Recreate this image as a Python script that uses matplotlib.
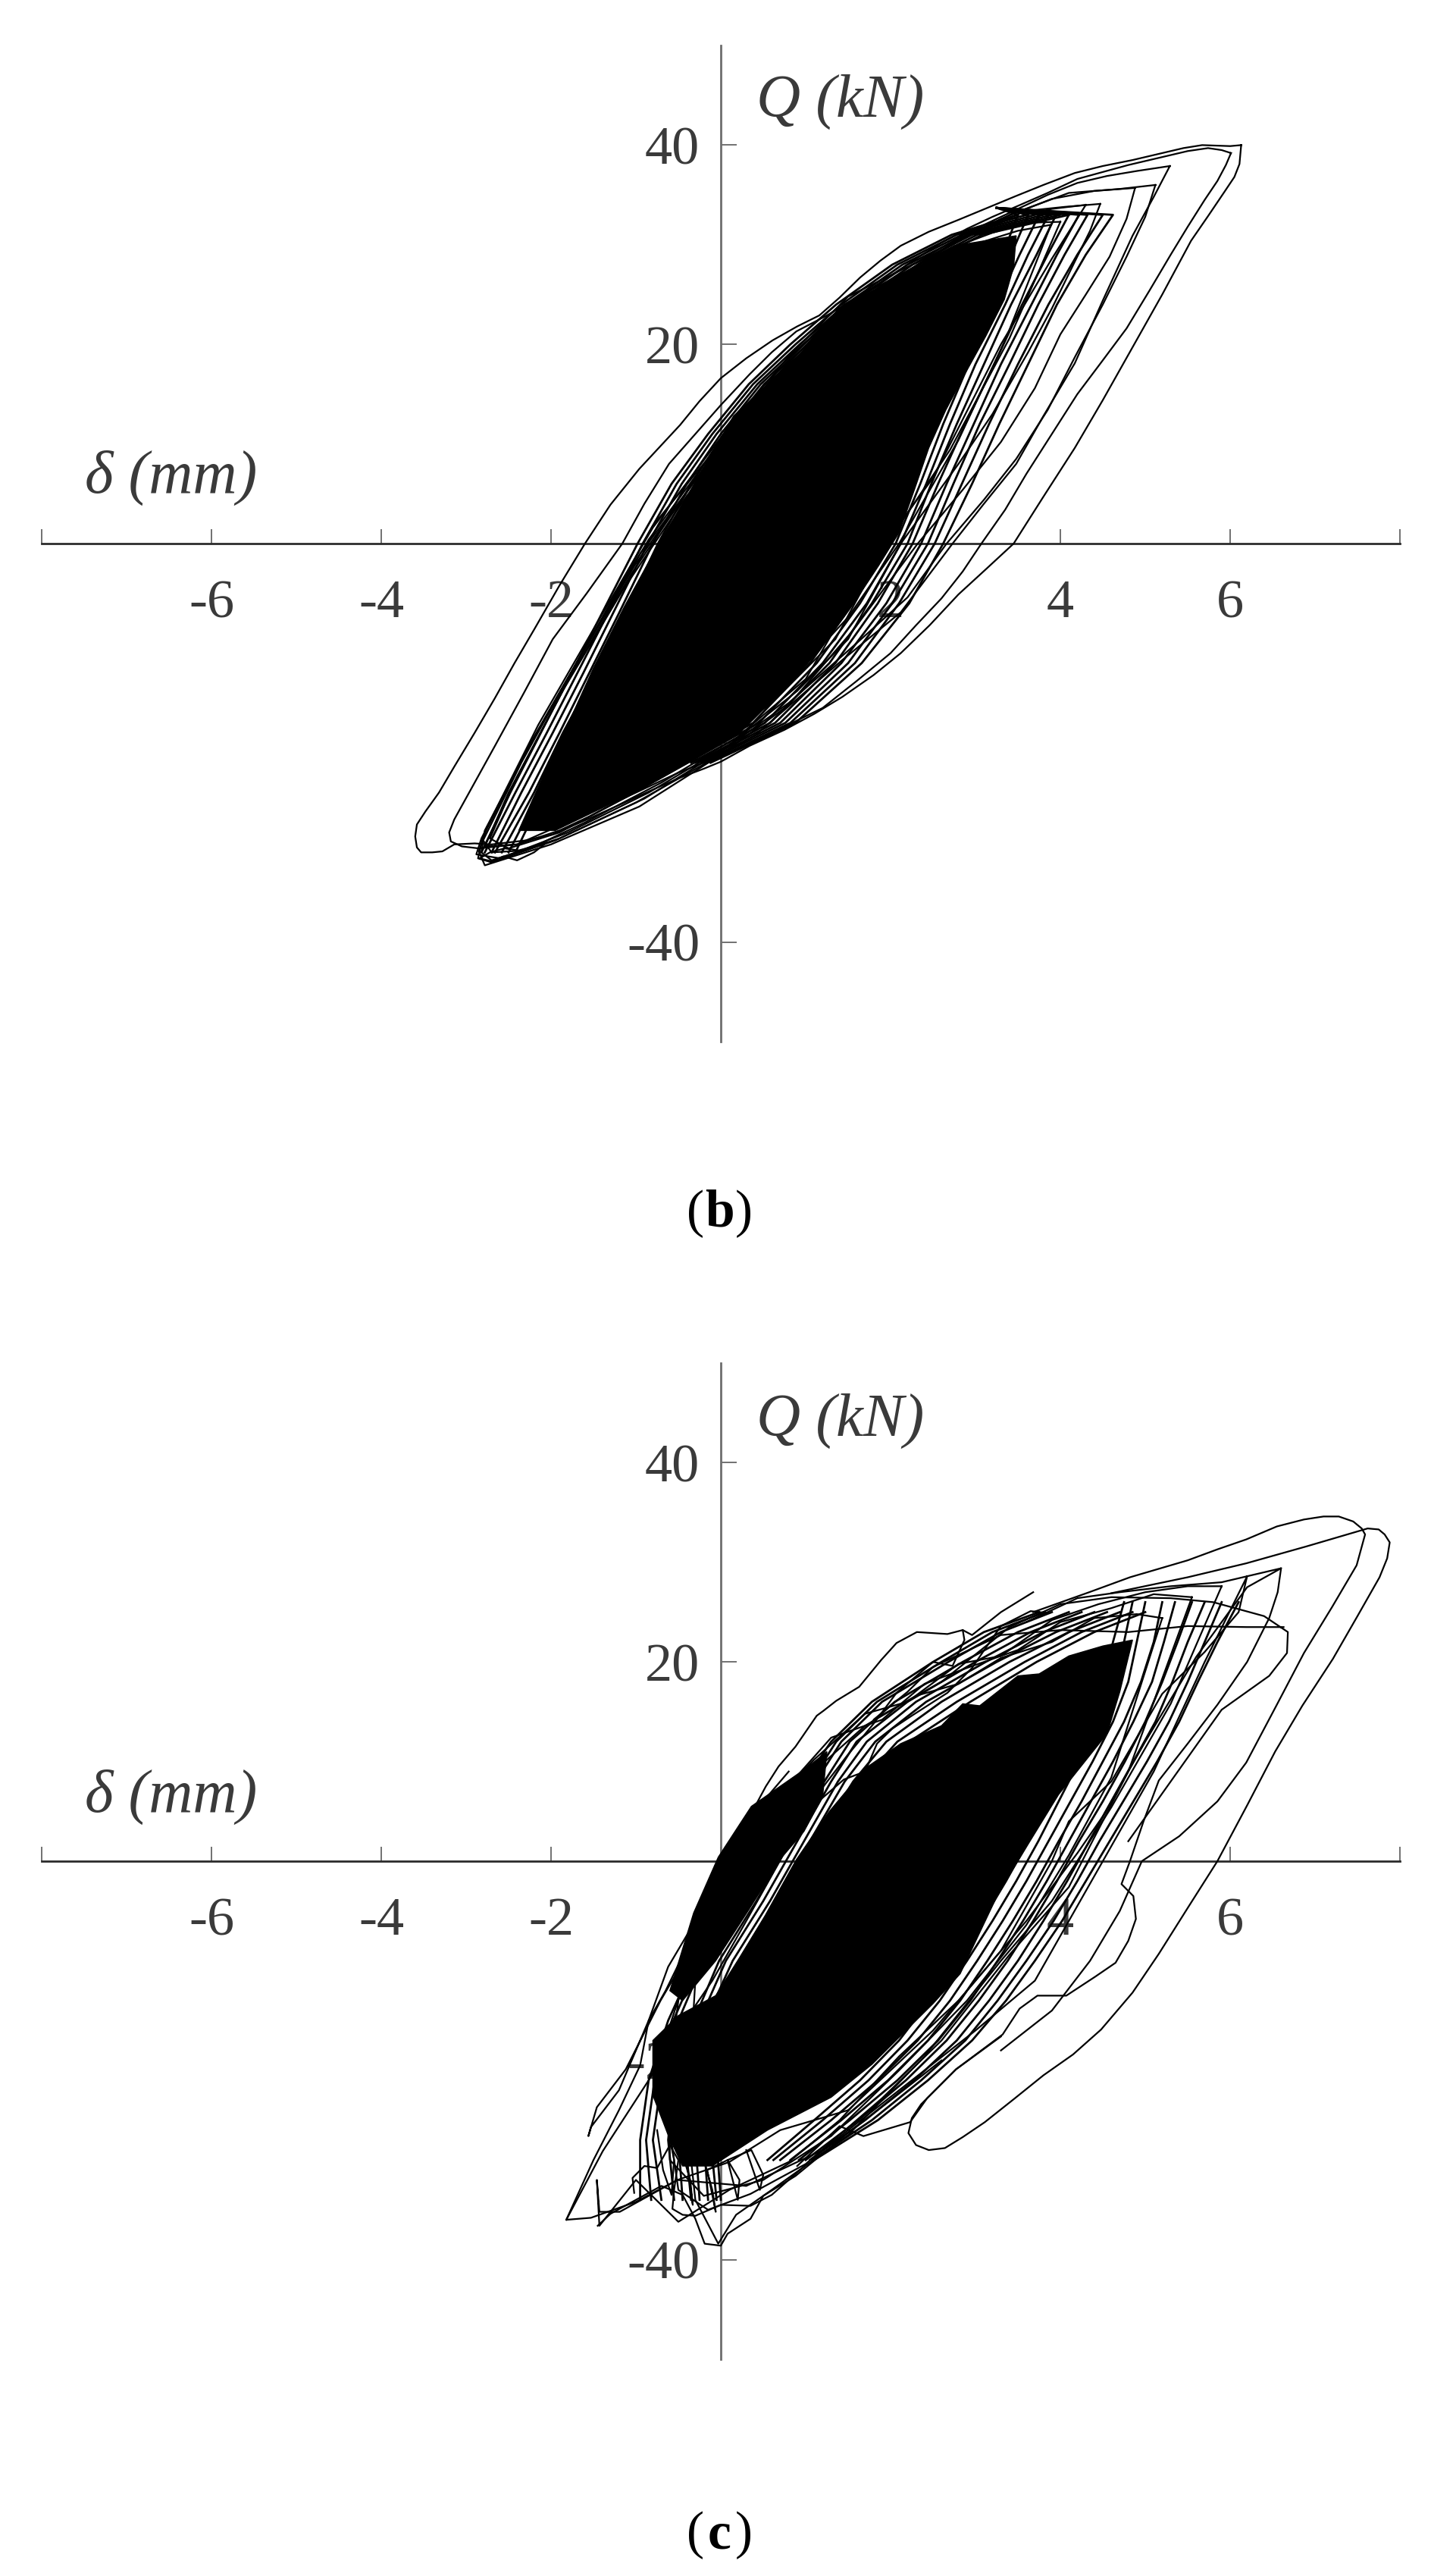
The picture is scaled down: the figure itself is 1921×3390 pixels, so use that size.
#!/usr/bin/env python3
"""Hysteresis loops (b) and (c): shear force Q vs displacement delta."""
import matplotlib
matplotlib.use("Agg")
import matplotlib.pyplot as plt

plt.rcParams.update({"font.family":["Liberation Serif","DejaVu Serif"],"axes.unicode_minus":False})
INK="#2b2b2b"; TXT="#3a3a3a"

x_ticks=[-8,-6,-4,-2,0,2,4,6,8]
x_labels=["","-6","-4","-2","","2","4","6",""]
y_ticks=[-40,-20,20,40]
y_labels=["-40","-20","20","40"]

# ---------- panel b: dense core outline and digitised loops ----------
b_core_x=[-2.38,-2.1,-1.83,-1.5,-1.14,-0.73,-0.25,0.15,0.5,0.84,1.38,2.07,2.75,3.48,3.45,3.34,3.12,2.88,2.65,2.45,2.28,2.1,1.86,1.62,1.28,0.9,0.2,-0.9,-1.95]
b_core_y=[-28.8,-23.5,-18.7,-12.5,-6.4,0,6.9,12.8,15.6,18.1,23.5,26.7,29.9,30.9,27.8,24.5,20.8,17.1,13.4,9.6,5.4,1.1,-2.2,-5.3,-9.4,-13.3,-19.2,-24.5,-28.8]

b1_x=[6.13,6.0,5.67,5.45,5.2,4.85,4.5,4.17,3.8,3.48,3.14,2.8,2.45,2.12,1.88,1.64,1.4,1.16,0.9,0.61,0.3,0,-0.25,-0.48,-0.72,-0.96,-1.3,-1.6,-1.9,-2.19,-2.43,-2.66,-2.9,-3.14,-3.32,-3.48,-3.58,-3.6,-3.58,-3.53,-3.4,-3.28,-3.14,-2.9,-2.7,-2.3,-1.98,-1.55,-1.16,-0.8,-0.48,-0.2,0,0.34,0.75,1.1,1.43,1.8,2.12,2.46,2.8,3.12,3.45,3.8,4.17,4.5,4.85,5.2,5.54,5.75,5.94,6.05,6.11,6.13]
b1_y=[40,39.9,40,39.7,39.2,38.5,37.9,37.2,36,34.9,33.7,32.5,31.3,29.9,28.4,26.7,24.7,22.9,21.8,20.4,18.6,16.6,14.3,11.9,9.7,7.5,3.9,0,-4.2,-8.5,-12,-15.5,-19,-22.4,-25,-26.9,-28.2,-29.4,-30.5,-31,-31,-30.9,-30.2,-30.1,-30.2,-29.8,-29.2,-27.6,-26.1,-24.7,-23.5,-22.6,-21.9,-20.3,-18.7,-17.1,-15.4,-13.2,-11,-8.2,-5.1,-2.6,0,4.7,9.6,14.4,19.7,25,30.4,33,35.4,36.8,38.1,40]
b2_x=[6.01,5.9,5.74,5.5,5.3,4.8,4.5,4.2,3.85,3.5,3.2,2.9,2.6,2.3,1.95,1.57,1.25,0.89,0.6,0.34,0,-0.3,-0.61,-0.9,-1.16,-1.58,-1.98,-2.32,-2.66,-2.9,-3.14,-3.2,-3.18,-3.05,-2.85,-2.4,-1.9,-1.55,-1.2,-0.85,-0.5,0.1,0.6,1.2,1.6,2.0,2.3,2.6,2.85,3.07,3.35,3.6,3.9,4.2,4.5,4.78,5.05,5.3,5.5,5.7,5.85,5.95,6.01]
b2_y=[39.2,39.5,39.7,39.4,39.0,38.0,37.3,36.6,35.2,33.9,32.8,31.6,30.2,28.6,26.6,24.5,22.9,21.3,19.2,17.0,13.9,11,8,4,0,-5,-9.6,-15,-20.3,-24,-27.7,-29,-29.9,-30.4,-30.6,-30.2,-28.8,-27.4,-25.8,-24.4,-23,-21,-19,-16.5,-13.8,-11,-8.2,-5.5,-2.8,0,3.4,7,11,15,18.4,21.6,25.4,29,31.8,34.5,36.4,38,39.2]
b3_x=[5.29,4.9,4.55,4.2,3.85,3.5,2.9,2.3,1.5,0.8,0.05,-0.8,-1.46,-2.15,-2.75,-2.85,-2.78,-2.0,-0.96,0,0.41,1.43,2.12,2.73,3.1,3.48,3.8,4.17,4.5,4.85,5.1,5.29]
b3_y=[37.9,37.4,36.9,36.2,35,33.6,31.2,28.2,24.8,18.8,11.2,1.6,-8,-18.2,-28.4,-30.9,-32.3,-30.2,-26.4,-21.2,-19.2,-11.7,-6.9,0,4,8,12.8,18.1,24.4,30.9,34.8,37.9]
b4_x=[5.12,4.7,4.1,3.4,2.8,2.2,1.45,0.7,0,-0.85,-1.5,-2.2,-2.78,-2.82,-2.7,-1.9,-0.9,0.05,0.8,1.6,2.2,2.66,3.1,3.48,3.85,4.17,4.5,4.78,5.0,5.12]
b4_y=[36,35.6,35.2,33,30.4,27.4,24,17.6,10.2,0.4,-9,-19.4,-28.8,-31,-31.8,-29.6,-25.6,-20.6,-16,-10,-5.4,0,4.4,8.5,13.4,18.7,24,28.8,32.8,36]
b5_x=[4.88,4.4,3.9,3.3,2.7,2.1,1.35,0.65,-0.05,-0.8,-1.55,-2.25,-2.8,-2.86,-2.7,-1.95,-1,0,0.8,1.55,2.32,2.85,3.3,3.7,4.0,4.3,4.58,4.78,4.88]
b5_y=[35.7,35.4,34.6,32.6,30,26.8,23,16.8,9.6,1.8,-9.8,-20.2,-29.4,-31.6,-32,-29.8,-26,-21.2,-16.2,-8.8,0,5.4,10.2,15.6,21,25,28.8,32.6,35.7]
b6_x=[4.47,4.05,3.6,3.05,2.5,1.9,1.2,0.55,-0.1,-0.95,-1.62,-2.3,-2.82,-2.88,-2.6,-1.8,-0.85,0.1,0.9,1.5,2.12,2.8,3.2,3.62,3.9,4.17,4.35,4.47]
b6_y=[34.1,33.8,33.4,31.6,29,25.6,21.4,15.6,8.6,-1,-10.8,-21,-29.6,-31.2,-31.6,-29,-25,-20.2,-14.8,-9.6,0,8,13,19.2,23.6,28.3,31.4,34.1]
b7_x=[4.3,3.9,3.4,2.9,2.35,1.75,1.1,0.45,-0.2,-1.0,-1.7,-2.35,-2.8,-2.7,-2.3,-1.6,-0.7,0.2,1.0,1.9,2.5,3.3,3.9,4.3]
b7_y=[34,33.6,32.6,30.8,28.2,24.4,20,14.2,7.6,-2,-12,-22,-29.8,-31,-30.8,-28,-24,-19.4,-13.6,-0.4,6.6,20,28.6,34]
b8_x=[4.0,3.6,3.2,2.7,2.2,1.6,1.0,0.35,-0.3,-1.05,-1.75,-2.4,-2.72,-2.5,-1.9,-1.1,-0.3,0.6,1.35,1.96,2.7,3.4,4.0]
b8_y=[32.3,32.2,31.2,29.6,26.8,23.2,18.8,13,6.4,-3,-13,-23.4,-29.6,-30.6,-29,-25.4,-21.6,-16,-9.6,0,9.4,20.6,32.3]
b9_x=[3.89,3.5,3.05,2.55,2.05,1.5,0.9,0.25,-0.4,-1.15,-1.85,-2.5,-2.78,-2.4,-1.6,-0.8,0,0.8,1.5,2.1,2.8,3.35,3.89]
b9_y=[32,31.4,30.2,28.2,25.4,21.8,17.2,11.2,4.8,-4.6,-14.6,-25,-30.4,-30.2,-27.2,-23.6,-19.2,-13.8,-7.4,0,10.4,20.4,32]
b12_x=[-2.84,-2.7,-2.56,-2.4,-2.2,-2.05,-2.2,-2.38,-2.55,-2.72,-2.84]
b12_y=[-31.6,-31.9,-31.4,-31.8,-31,-30,-30.4,-30.8,-30.6,-31,-31.6]

# strands on the left side of the core, x read at shared Q levels
b_left_y=[-31,-25,-19,-13,-7,0,6,11,16,20,24,28,31,33]
b_left1_x=[-2.82,-2.48,-2.12,-1.76,-1.40,-0.98,-0.58,-0.15,0.33,0.82,1.36,2.02,2.72,3.5]
b_left2_x=[-2.78,-2.42,-2.05,-1.69,-1.33,-0.92,-0.52,-0.10,0.38,0.88,1.42,2.08,2.78,3.6]
b_left3_x=[-2.7,-2.35,-1.98,-1.62,-1.27,-0.86,-0.46,-0.05,0.43,0.93,1.47,2.14,2.84,3.7]
b_left4_x=[-2.66,-2.26,-1.9,-1.55,-1.2,-0.8,-0.4,0,0.47,0.97,1.52,2.2,2.9,3.8]
b_left5_x=[-2.58,-2.2,-1.86,-1.48,-1.13,-0.74,-0.35,0.04,0.51,1.02,1.57,2.26,2.96,3.9]
b_left6_x=[-2.5,-2.14,-1.8,-1.44,-1.07,-0.7,-0.3,0.08,0.55,1.06,1.62,2.32,3.02,4.0]
b_left7_x=[-2.42,-2.08,-1.74,-1.38,-1.02,-0.65,-0.26,0.12,0.6,1.1,1.66,2.38,3.08,4.1]

# strands on the right side of the core
b_right_y=[33.7,33,29,24,18,12,6,0,-6,-12,-18,-22]
b_right1_x=[3.25,3.5,3.32,3.08,2.76,2.46,2.18,1.9,1.48,0.95,0.3,-0.5]
b_right2_x=[3.25,3.62,3.42,3.16,2.84,2.54,2.26,1.98,1.56,1.05,0.38,-0.45]
b_right3_x=[3.25,3.75,3.52,3.25,2.92,2.62,2.35,2.06,1.64,1.13,0.45,-0.4]
b_right4_x=[3.25,3.86,3.62,3.35,3.0,2.7,2.42,2.12,1.72,1.2,0.52,-0.35]
b_right5_x=[3.25,3.95,3.72,3.42,3.1,2.78,2.48,2.2,1.78,1.28,0.58,-0.3]
b_right6_x=[3.25,4.1,3.85,3.55,3.22,2.88,2.56,2.26,1.85,1.35,0.64,-0.27]
b_right7_x=[3.25,4.22,3.96,3.66,3.3,2.98,2.66,2.36,1.95,1.42,0.7,-0.23]
b_right8_x=[3.25,4.32,4.05,3.74,3.4,3.05,2.74,2.44,2.02,1.5,0.76,-0.2]
b_right9_x=[3.25,4.5,4.2,3.86,3.5,3.16,2.84,2.52,2.1,1.58,0.82,-0.16]
b_right10_x=[3.25,4.62,4.3,3.96,3.62,3.28,2.96,2.62,2.22,1.66,0.88,-0.12]

# ---------- panel c: two dense lobes and digitised loops ----------
c_core_x=[-0.62,-0.8,-0.8,-0.5,-0.06,0.22,0.52,0.89,1.28,1.7,2.12,2.6,2.85,3.05,3.5,3.75,4.1,4.5,4.85,4.7,4.55,3.98,3.62,3.26,2.82,2.5,1.78,1.3,0.55,-0.1,-0.45]
c_core_y=[-27.5,-23.5,-18,-15.5,-13.5,-9.7,-5.5,0.15,5,9.3,11.8,13.6,15.8,15.6,18.6,18.8,20.6,21.6,22.2,17,12.8,6.7,1.7,-3.4,-11.3,-14.3,-20.4,-23.7,-27,-30.6,-30.6]
c_lobe_x=[-0.6,-0.32,-0.03,0.36,1,1.25,1.2,0.98,0.72,0.32,-0.06,-0.45]
c_lobe_y=[-13,-5.2,0.4,5.5,9.3,11,6.5,3,0.4,-5,-10,-14]

c1_x=[3.68,4.34,4.82,5.5,5.85,6.19,6.55,6.87,7.1,7.28,7.45,7.55,7.59,7.49,7.2,6.87,6.55,6.19,5.85,5.4,4.96,4.7,4.35,3.9,3.3]
c1_y=[25,27,28.5,30.2,31.3,32.3,33.6,34.3,34.6,34.6,34.1,33.4,32.8,29.7,25.5,20.9,15.7,9.9,6,2.5,0,-5,-10,-15,-19]
c2_x=[4.6,5.5,6.19,6.9,7.62,7.75,7.82,7.88,7.85,7.76,7.5,7.21,6.85,6.53,6.2,5.85,5.5,5.16,4.85,4.48,4.15,3.8,3.45,3.11,2.85,2.64,2.45,2.3,2.21,2.25,2.36,2.77,3.3]
c2_y=[26.9,28.5,29.9,31.6,33.4,33.3,32.8,32,30.4,28.5,24.6,20.3,15.6,11,5.6,0,-4.7,-9.3,-13.2,-16.9,-19.4,-21.5,-23.9,-26.2,-27.7,-28.8,-29,-28.5,-27.3,-25.8,-24.4,-20.9,-17.6]
c3_x=[6.6,6.56,6.46,6.2,5.85,5.5,5.16,4.98,4.82,4.72,4.86,4.89,4.8,4.65,4.41,4.07,3.73,3.52,3.32,2.77,2.43,2.23,1.68,1.4,0.9]
c3_y=[29.4,27,24.4,20,15.7,11.8,8.1,4,0,-2.3,-3.5,-5.8,-8,-10.2,-11.6,-13.5,-13.5,-14.8,-17.4,-20.9,-23.8,-26.2,-27.6,-26.6,-30.6]
c4_x=[3.6,4.2,4.7,5.3,5.9,6.6,6.2,5.6,5.0,4.5,4.2,3.6,3.0,2.5,2.0,1.5]
c4_y=[24,26.4,27,27.6,28,29.4,27.5,20.5,12,4.5,0.8,-6,-12,-17,-21,-25]
c5_x=[3.68,3.3,2.96,2.85,2.67,2.31,2.07,1.89,1.63,1.36,1.21,1.13,0.88,0.68,0.53,0.29,0,-0.3,-0.62,-0.85,-1.2,-1.53,-1.56,-1.46,-1.12,-0.71,-0.3]
c5_y=[27,25,22.7,23.2,22.8,23,21.9,20.2,17.5,16.1,15.1,14.6,11.5,9.5,7.5,3.7,0.2,-6,-10.6,-16,-23,-26.7,-27.6,-24.7,-20.9,-14,-8]
c6_x=[2.85,2.87,2.73,2.5,2.07,1.8,1.48,1.2,0.95,0.72,0.3,-0.1,-0.5,-0.85,-1.39,-1.82,-1.53,-1,-0.51,0.1,0.7,1.5]
c6_y=[23.2,22.2,19.6,20,16.9,13.8,10.5,7.4,4.2,0.4,-6,-12,-17,-22,-29.1,-36,-35.8,-34.2,-32,-30.2,-27,-25]
c7_x=[6.63,6.19,5.5,4.8,4.0,3.3,2.5,2.2,1.8,2.6,3.4,4.0,4.6,5.3,5.8,6.4,6.68,6.67,6.46,5.9,5.3,4.8]
c7_y=[23.5,23.5,23.6,23,23.2,22.7,19.5,17,14.2,18,23.5,25.8,26.5,26.4,26,24.6,23,20.9,18.6,15.2,8,2]
c8_x=[6.2,6.1,5.7,5.2,4.6,4.1,3.9,3.3,2.8,2.1,1.4,0.8,0.1,-0.5,-1.0,-1.43,-1.46,-1.43,-1.19,-0.51,0.3,1.2,2.1,3.0,3.7,4.4,5.1,5.7,6.2]
c8_y=[28.6,25,21,16.8,8,4,0,-9,-14,-19.6,-26,-30.2,-33,-36.2,-32,-36.6,-32,-35.2,-35.2,-32,-32.6,-29,-23,-17,-12,-1.5,9,20,28.6]
c9_x=[5.9,5.5,5.0,4.45,3.9,3.3,2.8,2.2,1.7,1.1,0.5,0,-0.3,-0.4,-0.3,-0.03,0.18,0.6,1.5,2.4,3.3,3.9,4.6,5.3,5.9]
c9_y=[27.6,27.6,27,25.8,24.2,20.6,19.8,16,14.8,10.2,5,-2,-12,-26,-34,-38.4,-35.5,-33,-27.5,-19.6,-10,-4,5.4,15.8,27.6]
c10_x=[5.55,5.1,4.6,4.0,3.5,2.9,2.4,1.9,1.3,0.8,0.3,-0.1,-0.5,-0.65,-0.5,-0.15,0.35,1.0,1.9,2.6,3.4,4.1,4.8,5.55]
c10_y=[26.5,26.8,25.4,24,21.2,19.4,17.8,14.2,12.4,7.6,3.4,-3,-14,-24,-33,-35,-33.4,-30.4,-23.8,-18,-9.4,-2.6,9,26.5]
c11_x=[5.2,4.9,4.4,3.9,3.3,2.8,2.3,1.7,1.2,0.7,0.2,-0.2,-0.62,-0.6,-0.2,0.5,1.3,2.1,2.9,3.6,4.1,4.6,5.2]
c11_y=[24.4,24.8,24.4,22,20.4,17.8,16.6,13.6,9.8,6.4,1,-6.2,-17,-30,-33.6,-32,-27.6,-21,-14,-6.4,0.6,8.4,24.4]
c12_x=[3.86,3.65,3.3,3.12,2.96,2.67,2.25,2.02,1.84,1.7,1.45,1.15,0.9,0.6,0.2]
c12_y=[24.9,25.1,23.6,21.4,19.4,16.9,14.6,13.3,11.8,9,8.2,6,3,-1,-6]
c14_x=[-1.45,-1.3,-1.0,-0.7,-0.45,-0.3,-0.19,0,0.08,0.35,0.5,0.88,1.51,2.0,2.6]
c14_y=[-36.6,-35.4,-34,-32.6,-33.5,-35.9,-38.4,-38.6,-37.4,-35.9,-33.6,-31.6,-27.2,-24,-20]
c15_x=[-1.02,-1.04,-0.9,-0.75,-0.6,-0.5,-0.55,-0.57,-0.45,-0.3,0.0,0.35,0.6,1.0]
c15_y=[-33.3,-31.8,-30.6,-30.8,-28.5,-30,-33,-34.9,-35.5,-35.6,-34.5,-34.6,-33.5,-30.5]
c16_x=[-1.82,-1.5,-1.2,-0.95,-0.85,-0.65,-0.42,-0.2,0.05,0.4,0.8]
c16_y=[-36,-30,-25,-20.5,-16,-13,-9,-5,0,5,9]
c17_x=[-0.75,-0.68,-0.58,-0.55,-0.62,-0.5,-0.36,-0.33,-0.42,-0.2,-0.1,-0.06,-0.16,0.08,0.22,0.2,0.08,0.36,0.5,0.46,0.3]
c17_y=[-27,-31,-33.5,-30,-27,-28,-32,-34.5,-29,-30,-33,-35.2,-31,-30,-32,-34,-30,-29,-31.5,-33,-29]

# strands along the upper side, x read at shared Q levels
c_upper_y=[-34,-28,-22,-16,-10,-4,2,8,12,16,20,23,25]
c_upper1_x=[-0.55,-0.62,-0.55,-0.32,-0.02,0.42,0.82,1.22,1.52,2.05,2.85,3.5,4.1]
c_upper2_x=[-0.45,-0.5,-0.48,-0.25,0.06,0.5,0.9,1.3,1.6,2.2,3.0,3.65,4.25]
c_upper3_x=[-0.35,-0.42,-0.4,-0.18,0.14,0.58,0.98,1.38,1.72,2.3,3.12,3.8,4.4]
c_upper4_x=[-0.7,-0.8,-0.7,-0.5,-0.2,0.25,0.68,1.12,1.42,1.9,2.68,3.3,3.9]
c_upper5_x=[-0.95,-0.95,-0.85,-0.62,-0.3,0.12,0.58,0.98,1.3,1.78,2.5,3.1,3.75]
c_upper6_x=[-0.25,-0.3,-0.3,-0.1,0.22,0.66,1.05,1.46,1.82,2.42,3.25,3.95,4.55]
c_upper7_x=[-0.82,-0.88,-0.78,-0.56,-0.25,0.18,0.62,1.06,1.36,1.84,2.6,3.2,3.82]
c_upper8_x=[-0.15,-0.2,-0.2,0,0.3,0.74,1.12,1.56,1.95,2.6,3.4,4.1,4.7]
c_upper9_x=[-0.05,-0.12,-0.1,0.08,0.38,0.8,1.2,1.66,2.08,2.78,3.58,4.25,4.85]
c_upper10_x=[0,-0.05,0,0.16,0.44,0.88,1.28,1.76,2.22,2.94,3.72,4.4,5.0]

# strands along the lower side
c_lower_y=[26,22,18,14,10,6,2,-2,-6,-10,-14,-18,-22,-26,-30]
c_lower1_x=[5.0,4.9,4.8,4.62,4.38,4.12,3.86,3.6,3.32,3.02,2.7,2.32,1.85,1.3,0.7]
c_lower2_x=[5.2,5.1,4.95,4.75,4.5,4.25,3.98,3.72,3.44,3.14,2.82,2.44,1.97,1.42,0.82]
c_lower3_x=[5.35,5.22,5.08,4.86,4.62,4.36,4.1,3.84,3.56,3.26,2.94,2.56,2.08,1.52,0.92]
c_lower4_x=[5.55,5.38,5.2,5,4.76,4.5,4.22,3.96,3.68,3.38,3.04,2.66,2.18,1.62,1.0]
c_lower5_x=[5.7,5.5,5.32,5.12,4.86,4.6,4.34,4.08,3.8,3.5,3.16,2.78,2.28,1.7,1.05]
c_lower6_x=[5.9,5.7,5.5,5.28,5.02,4.74,4.46,4.2,3.92,3.6,3.26,2.88,2.36,1.78,1.08]
c_lower7_x=[6.1,5.85,5.62,5.4,5.14,4.86,4.58,4.3,4.02,3.7,3.36,2.96,2.44,1.85,1.1]
c_lower8_x=[4.85,4.75,4.62,4.45,4.22,3.98,3.74,3.48,3.2,2.9,2.58,2.2,1.74,1.2,0.62]
c_lower9_x=[4.75,4.62,4.5,4.32,4.1,3.86,3.62,3.36,3.08,2.78,2.46,2.1,1.64,1.1,0.55]

b_loops=[(b1_x,b1_y),(b2_x,b2_y),(b3_x,b3_y),(b4_x,b4_y),(b5_x,b5_y),(b6_x,b6_y),
         (b7_x,b7_y),(b8_x,b8_y),(b9_x,b9_y),(b12_x,b12_y)]
b_strands=[(sx,b_left_y) for sx in [b_left1_x,b_left2_x,b_left3_x,b_left4_x,b_left5_x,b_left6_x,b_left7_x]]
b_strands+=[(sx,b_right_y) for sx in [b_right1_x,b_right2_x,b_right3_x,b_right4_x,b_right5_x,
                                      b_right6_x,b_right7_x,b_right8_x,b_right9_x,b_right10_x]]
c_loops=[(c1_x,c1_y),(c2_x,c2_y),(c3_x,c3_y),(c4_x,c4_y),(c5_x,c5_y),(c6_x,c6_y),(c7_x,c7_y),(c8_x,c8_y),
         (c9_x,c9_y),(c10_x,c10_y),(c11_x,c11_y),(c12_x,c12_y),(c14_x,c14_y),(c15_x,c15_y),
         (c16_x,c16_y),(c17_x,c17_y)]
c_strands=[(sx,c_upper_y) for sx in [c_upper1_x,c_upper2_x,c_upper3_x,c_upper4_x,c_upper5_x,c_upper6_x,
                                     c_upper7_x,c_upper8_x,c_upper9_x,c_upper10_x]]
c_strands+=[(sx,c_lower_y) for sx in [c_lower1_x,c_lower2_x,c_lower3_x,c_lower4_x,c_lower5_x,c_lower6_x,
                                      c_lower7_x,c_lower8_x,c_lower9_x]]

W,H=1921,3390
fig=plt.figure(figsize=(W/100,H/100),dpi=100,facecolor="white")

def panel(top,bottom,cores,loops,strands):
    ax=fig.add_axes([55/W,(H-bottom)/H,1792/W,(bottom-top)/H])
    ax.set_xlim(-8,8); ax.set_ylim(-50,50)
    ax.patch.set_alpha(0); ax.set_axisbelow(True)
    for s in ["top","right"]: ax.spines[s].set_visible(False)
    ax.spines["bottom"].set_position(("data",0)); ax.spines["left"].set_position(("data",0))
    ax.spines["bottom"].set_linewidth(2.0); ax.spines["bottom"].set_color(INK)
    ax.spines["left"].set_linewidth(2.0); ax.spines["left"].set_color("#6e6e6e")
    ax.set_xticks(x_ticks); ax.set_xticklabels(x_labels,fontsize=52,color=TXT)
    ax.set_yticks(y_ticks); ax.set_yticklabels(y_labels,fontsize=52,color=TXT)
    ax.tick_params(axis="x",direction="in",length=14,width=1.3,color="#666666",pad=34)
    ax.tick_params(axis="y",direction="in",length=15,width=1.3,color="#666666",pad=20)
    for cx,cy in cores:
        ax.fill(cx,cy,color="black",lw=1.0,zorder=3)
    for lx,ly in loops:
        ax.plot(lx,ly,color="black",lw=1.6,solid_joinstyle="round",zorder=3)
    for lx,ly in strands:
        ax.plot(lx,ly,color="black",lw=2.0,solid_joinstyle="round",zorder=3)
    return ax

panel(60,1374,[(b_core_x,b_core_y)],b_loops,b_strands)
panel(1798,3112,[(c_core_x,c_core_y),(c_lobe_x,c_lobe_y)],c_loops,c_strands)

# axis names and panel letters, placed in pixels of the page
for off in [0,1740]:
    fig.text(998/W,1-(134+off)/H,"Q (kN)",fontsize=58,style="italic",color=TXT,va="center")
    fig.text(112/W,1-(630+off)/H,"δ (mm)",fontsize=58,style="italic",color=TXT,va="center")
for xc,yc,letter in [(949,1601,"b"),(949,3344,"c")]:
    fig.text((xc-31)/W,1-yc/H,"(",fontsize=50,color="black",ha="center",va="center")
    fig.text(xc/W,1-yc/H,letter,fontsize=50,fontweight="bold",color="black",ha="center",va="center")
    fig.text((xc+32)/W,1-yc/H,")",fontsize=50,color="black",ha="center",va="center")

fig.savefig("out.png",dpi=100)
